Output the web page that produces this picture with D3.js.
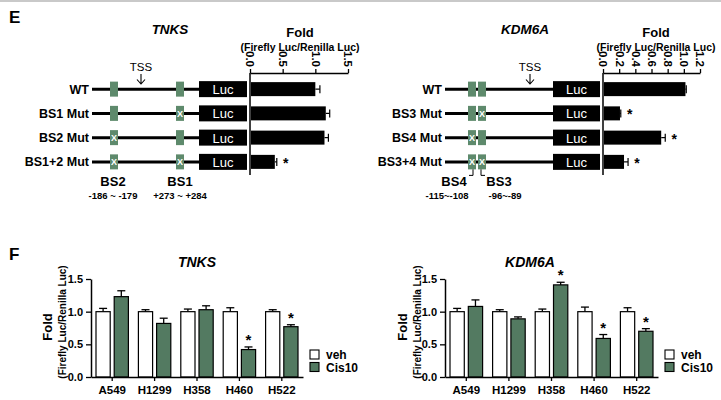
<!DOCTYPE html>
<html>
<head>
<meta charset="utf-8">
<script src="https://cdn.jsdelivr.net/npm/d3@7"></script>
<style>
body { margin: 0; background: #fff; }
text { font-family: "Liberation Sans", Arial, sans-serif; }
</style>
</head>
<body>
<svg id="fig" width="721" height="400"></svg>
<script>
// panel E - TNKS reporter constructs
const tnksRows = ["WT", "BS1 Mut", "BS2 Mut", "BS1+2 Mut"];
const tnksFold = [1.0, 1.16, 1.14, 0.38];
const tnksErr = [0.07, 0.06, 0.06, 0.03];
const tnksStar = [false, false, false, true];
const tnksTicks = [0, 0.5, 1.0, 1.5];
const tnksSites = ["BS2", "BS1"];
const tnksSitePos = ["-186 ~ -179", "+273 ~ +284"];
const tnksMut = [[false, false], [false, true], [true, false], [true, true]]; // [BS2, BS1]

// panel E - KDM6A reporter constructs
const kdmRows = ["WT", "BS3 Mut", "BS4 Mut", "BS3+4 Mut"];
const kdmFold = [1.02, 0.21, 0.72, 0.26];
const kdmErr = [0.01, 0.01, 0.05, 0.05];
const kdmStar = [false, true, true, true];
const kdmTicks = [0, 0.2, 0.4, 0.6, 0.8, 1.0, 1.2];
const kdmSites = ["BS4", "BS3"];
const kdmSitePos = ["-115~-108", "-96~-89"];
const kdmMut = [[false, false], [false, true], [true, false], [true, true]]; // [BS4, BS3]

// panel F - cell lines, veh vs Cis10
const cells = ["A549", "H1299", "H358", "H460", "H522"];
const groups = ["veh", "Cis10"];
const fTicks = [0, 0.5, 1.0, 1.5];
const tnksVeh = [1.0, 1.0, 1.0, 1.0, 1.0];
const tnksVehErr = [0.05, 0.03, 0.04, 0.06, 0.03];
const tnksCis = [1.23, 0.82, 1.03, 0.42, 0.77];
const tnksCisErr = [0.09, 0.08, 0.06, 0.04, 0.03];
const tnksCisStar = [false, false, false, true, true];
const kdmVeh = [1.0, 1.0, 1.0, 1.0, 1.0];
const kdmVehErr = [0.05, 0.03, 0.04, 0.07, 0.06];
const kdmCis = [1.08, 0.89, 1.41, 0.59, 0.70];
const kdmCisErr = [0.10, 0.03, 0.04, 0.06, 0.04];
const kdmCisStar = [false, false, true, true, true];

const green = "#537a61";
const boxGreen = "#5e8a6c";

const svg = d3.select("#fig");

// light rule at the very top
svg.append("line").attr("x1", 0).attr("x2", 721).attr("y1", 1).attr("y2", 1)
  .attr("stroke", "#c9c9c9").attr("stroke-width", 2);

svg.append("text").attr("x", 9).attr("y", 23).text("E")
  .attr("font-size", 17).attr("font-weight", "bold");
svg.append("text").attr("x", 9).attr("y", 260).text("F")
  .attr("font-size", 17).attr("font-weight", "bold");

function drawReporter(o) {
  const g = svg.append("g");
  const x = d3.scaleLinear().domain([0, o.max]).range([o.axisX, o.axisEnd]);
  const y = d3.scaleBand().domain(o.rows).range([77, 174]);
  const cy = d => y(d) + y.bandwidth() / 2;

  g.append("text").attr("x", o.titleX).attr("y", 34).text(o.title)
    .attr("text-anchor", "middle").attr("font-size", 13.5)
    .attr("font-weight", "bold").attr("font-style", "italic");
  g.append("text").attr("x", o.foldX).attr("y", 37).text("Fold")
    .attr("text-anchor", "middle").attr("font-size", 13).attr("font-weight", "bold");
  g.append("text").attr("x", o.foldX).attr("y", 51).text("(Firefly Luc/Renilla Luc)")
    .attr("text-anchor", "middle").attr("font-size", 10.5).attr("font-weight", "bold");

  // top value axis, labels turned sideways
  const ax = g.append("g").attr("transform", "translate(0,73)")
    .call(d3.axisTop(x).tickValues(o.ticks).tickSize(4).tickSizeOuter(0)
      .tickFormat(d3.format(".1f")));
  ax.select(".domain").attr("stroke-width", 1.5);
  ax.selectAll(".tick line").attr("stroke-width", 1.3);
  ax.selectAll(".tick text")
    .attr("x", 0).attr("y", 0).attr("dy", "0.35em")
    .attr("transform", "translate(0,-6) rotate(90)")
    .attr("text-anchor", "end")
    .attr("font-size", 11.5).attr("font-weight", "bold")
    .attr("font-family", "Liberation Sans, Arial, sans-serif").attr("fill", "#000");
  g.append("line").attr("x1", o.axisX).attr("x2", o.axisX).attr("y1", 73).attr("y2", 175)
    .attr("stroke", "#000").attr("stroke-width", 1.5);

  o.rows.forEach((r, i) => {
    const c = cy(r);
    const v = o.fold[i], e = o.err[i];
    // bar + error
    g.append("rect").attr("x", x(0) + 1).attr("y", c - 7)
      .attr("width", x(v) - x(0) - 1).attr("height", 14).attr("fill", "#000");
    g.append("line").attr("x1", x(v)).attr("x2", x(v + e)).attr("y1", c).attr("y2", c)
      .attr("stroke", "#000").attr("stroke-width", 1.2);
    g.append("line").attr("x1", x(v + e)).attr("x2", x(v + e)).attr("y1", c - 4).attr("y2", c + 4)
      .attr("stroke", "#000").attr("stroke-width", 1.2);
    if (o.star[i]) {
      g.append("text").attr("x", x(v + e) + 9).attr("y", c + 6).text("*")
        .attr("text-anchor", "middle").attr("font-size", 14).attr("font-weight", "bold");
    }

    // construct drawing
    g.append("text").attr("x", o.labelX).attr("y", c + 4.5).text(r)
      .attr("text-anchor", "end").attr("font-size", 12.5).attr("font-weight", "bold");
    g.append("line").attr("x1", o.lineX0).attr("x2", o.lucX).attr("y1", c).attr("y2", c)
      .attr("stroke", "#000").attr("stroke-width", 3);
    o.boxX.forEach((bx, k) => {
      g.append("rect").attr("x", bx).attr("y", c - 7.5).attr("width", 8).attr("height", 15)
        .attr("fill", boxGreen);
      if (o.mut[i][k]) {
        g.append("text").attr("x", bx + 4).attr("y", c + 3.5).text("X")
          .attr("text-anchor", "middle").attr("font-size", 9).attr("font-weight", "bold")
          .attr("fill", "#fff");
      }
    });
    g.append("rect").attr("x", o.lucX).attr("y", c - 8).attr("width", o.lucW).attr("height", 16)
      .attr("fill", "#000");
    g.append("text").attr("x", o.lucX + o.lucW / 2).attr("y", c + 5).text("Luc")
      .attr("text-anchor", "middle").attr("font-size", 13).attr("fill", "#fff");
  });

  // TSS arrow
  g.append("text").attr("x", o.tssX).attr("y", 71).text("TSS")
    .attr("text-anchor", "middle").attr("font-size", 11.5);
  g.append("path")
    .attr("d", `M${o.tssX},74V84M${o.tssX - 4},79.5L${o.tssX},84L${o.tssX + 4},79.5`)
    .attr("fill", "none").attr("stroke", "#000").attr("stroke-width", 1.1);

  // site labels
  o.sites.forEach((s, k) => {
    g.append("text").attr("x", o.siteX[k]).attr("y", 186).text(s)
      .attr("text-anchor", "middle").attr("font-size", 13).attr("font-weight", "bold");
    g.append("text").attr("x", o.posX[k]).attr("y", 199).text(o.sitePos[k])
      .attr("text-anchor", "middle").attr("font-size", 9.5).attr("font-weight", "bold");
  });
  if (o.brackets) {
    const yb = cy(o.rows[o.rows.length - 1]) + 7.5;
    g.append("path")
      .attr("d", `M${o.boxX[0] + 5},${yb}V${yb + 6}H${o.boxX[0] + 1}M${o.boxX[1] + 3},${yb}V${yb + 6}H${o.boxX[1] + 7}`)
      .attr("fill", "none").attr("stroke", "#000").attr("stroke-width", 1);
  }
}

drawReporter({
  title: "TNKS", titleX: 170, foldX: 300,
  rows: tnksRows, fold: tnksFold, err: tnksErr, star: tnksStar, ticks: tnksTicks, max: 1.5,
  axisX: 250, axisEnd: 348,
  labelX: 89, lineX0: 92, lucX: 199, lucW: 48,
  boxX: [110, 176], mut: tnksMut, tssX: 141,
  sites: tnksSites, sitePos: tnksSitePos, siteX: [113, 180], posX: [113, 180], brackets: false
});

drawReporter({
  title: "KDM6A", titleX: 525, foldX: 656,
  rows: kdmRows, fold: kdmFold, err: kdmErr, star: kdmStar, ticks: kdmTicks, max: 1.2,
  axisX: 603, axisEnd: 700,
  labelX: 442, lineX0: 445, lucX: 553, lucW: 47,
  boxX: [468, 478], mut: kdmMut, tssX: 530,
  sites: kdmSites, sitePos: kdmSitePos, siteX: [454, 499], posX: [447, 505], brackets: true
});

function drawCells(o) {
  const g = svg.append("g");
  const x0 = d3.scaleBand().domain(cells).range([o.left, o.right]);
  const x1 = d3.scaleBand().domain(groups).range([5, x0.bandwidth() - 5]).paddingInner(0.22);
  const y = d3.scaleLinear().domain([0, 1.5]).range([377, 279]);

  g.append("text").attr("x", o.titleX).attr("y", 267).text(o.title)
    .attr("text-anchor", "middle").attr("font-size", 14)
    .attr("font-weight", "bold").attr("font-style", "italic");

  const rows = cells.map((c, i) => ({
    cell: c,
    vals: [
      { grp: "veh", v: o.veh[i], e: o.vehErr[i], star: false },
      { grp: "Cis10", v: o.cis[i], e: o.cisErr[i], star: o.cisStar[i] }
    ]
  }));

  const cg = g.selectAll(".cell").data(rows).enter().append("g")
    .attr("transform", d => `translate(${x0(d.cell)},0)`);
  const bar = cg.selectAll(".b").data(d => d.vals).enter().append("g");
  bar.append("line")
    .attr("x1", d => x1(d.grp) + x1.bandwidth() / 2).attr("x2", d => x1(d.grp) + x1.bandwidth() / 2)
    .attr("y1", d => y(d.v)).attr("y2", d => y(d.v + d.e))
    .attr("stroke", "#000").attr("stroke-width", 1.3);
  bar.append("line")
    .attr("x1", d => x1(d.grp) + x1.bandwidth() / 2 - 4).attr("x2", d => x1(d.grp) + x1.bandwidth() / 2 + 4)
    .attr("y1", d => y(d.v + d.e)).attr("y2", d => y(d.v + d.e))
    .attr("stroke", "#000").attr("stroke-width", 1.3);
  bar.append("rect")
    .attr("x", d => x1(d.grp)).attr("width", x1.bandwidth())
    .attr("y", d => y(d.v)).attr("height", d => y(0) - y(d.v))
    .attr("fill", d => d.grp === "veh" ? "#fff" : green)
    .attr("stroke", "#000").attr("stroke-width", 1.2);
  bar.filter(d => d.star).append("text")
    .attr("x", d => x1(d.grp) + x1.bandwidth() / 2).attr("y", d => y(d.v + d.e) - 2)
    .text("*").attr("text-anchor", "middle").attr("font-size", 15).attr("font-weight", "bold");

  const ya = g.append("g").attr("transform", `translate(${o.left},0)`)
    .call(d3.axisLeft(y).tickValues(fTicks).tickSize(5).tickSizeOuter(0).tickFormat(d3.format(".1f")));
  const xa = g.append("g").attr("transform", "translate(0,377)")
    .call(d3.axisBottom(x0).tickSize(4).tickSizeOuter(0).tickPadding(5));
  [ya, xa].forEach(a => {
    a.select(".domain").attr("stroke-width", 1.5);
    a.selectAll(".tick line").attr("stroke-width", 1.3);
    a.selectAll(".tick text").attr("font-size", 11.5).attr("font-weight", "bold")
      .attr("font-family", "Liberation Sans, Arial, sans-serif").attr("fill", "#000");
  });
  ya.selectAll(".tick text").attr("font-size", 11);

  g.append("text").attr("transform", `translate(${o.foldX},327) rotate(-90)`)
    .text("Fold").attr("text-anchor", "middle").attr("font-size", 13).attr("font-weight", "bold");
  g.append("text").attr("transform", `translate(${o.foldX + 14},322) rotate(-90)`)
    .text("(Firefly Luc/Renilla Luc)").attr("text-anchor", "middle")
    .attr("font-size", 10).attr("font-weight", "bold");

  // legend
  groups.forEach((gr, k) => {
    g.append("rect").attr("x", o.legX).attr("y", 350 + k * 12.5).attr("width", 9).attr("height", 9)
      .attr("fill", gr === "veh" ? "#fff" : green).attr("stroke", "#000").attr("stroke-width", 1.1);
    g.append("text").attr("x", o.legX + 16).attr("y", 359 + k * 12.5).text(gr)
      .attr("font-size", 12).attr("font-weight", "bold");
  });
}

drawCells({
  title: "TNKS", titleX: 197, left: 91, right: 303, foldX: 52, legX: 310,
  veh: tnksVeh, vehErr: tnksVehErr, cis: tnksCis, cisErr: tnksCisErr, cisStar: tnksCisStar
});
drawCells({
  title: "KDM6A", titleX: 530, left: 445, right: 658, foldX: 407, legX: 665,
  veh: kdmVeh, vehErr: kdmVehErr, cis: kdmCis, cisErr: kdmCisErr, cisStar: kdmCisStar
});
</script>
</body>
</html>
